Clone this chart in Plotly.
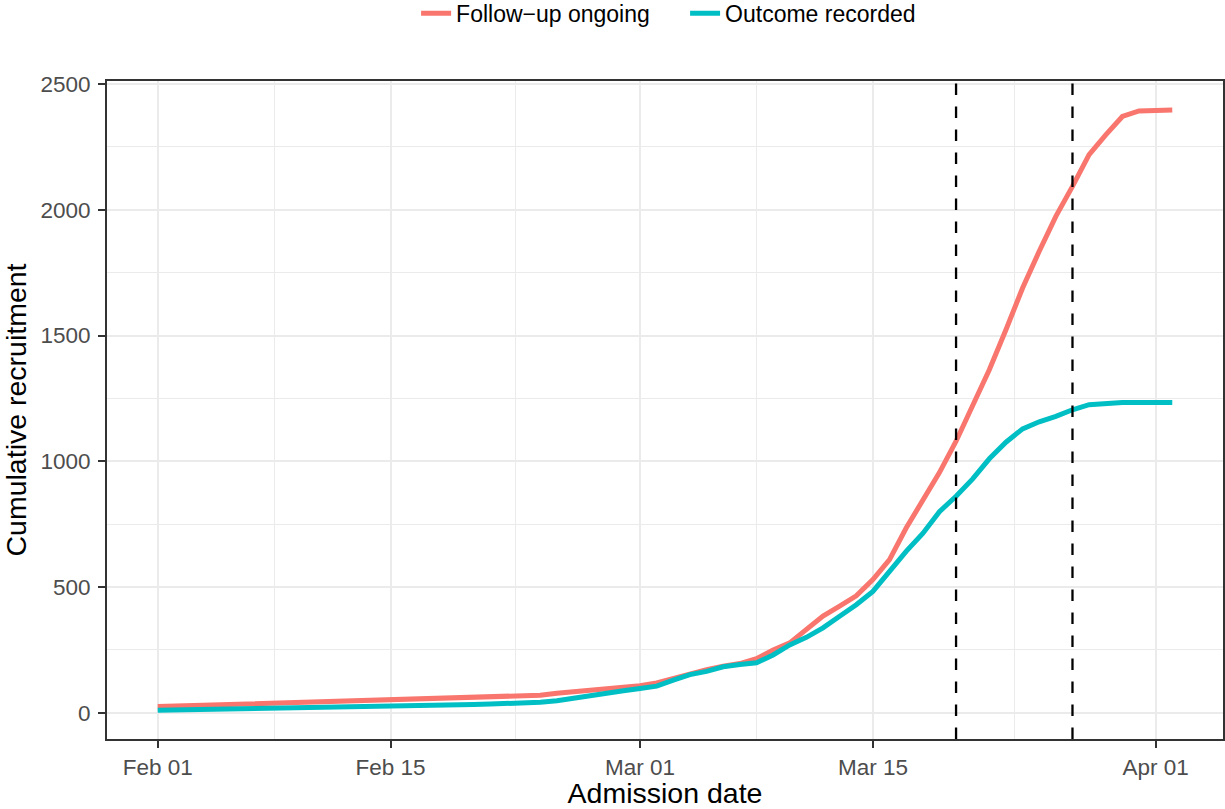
import pandas as pd
import plotly.graph_objects as go

# ---- data ----
dates = pd.date_range("2020-02-01", "2020-04-02", freq="D")

follow_up_ongoing = [25, 27, 28, 30, 31, 33, 35, 38, 40, 42,
                     44, 47, 50, 52, 55, 56, 57, 58, 59, 60,
                     62, 64, 66, 70, 78, 84, 88, 92, 98, 108,
                     119, 137, 155, 172, 185, 196, 215, 250, 278, 330,
                     385, 424, 465, 530, 609, 735, 841, 955, 1080, 1222,
                     1364, 1523, 1689, 1835, 1974, 2093, 2219, 2298, 2371, 2393,
                     2396, 2397]

outcome_recorded = [10, 11, 12, 13, 13, 14, 15, 17, 18, 19,
                    20, 21, 22, 24, 26, 27, 28, 30, 31, 33,
                    35, 36, 38, 42, 48, 58, 72, 78, 88, 97,
                    106, 130, 152, 165, 183, 192, 199, 230, 270, 300,
                    338, 384, 430, 483, 563, 642, 713, 800, 861, 930,
                    1010, 1076, 1129, 1157, 1179, 1205, 1225, 1232, 1234, 1234,
                    1234, 1234]

series_names = ["Follow\u2212up ongoing", "Outcome recorded"]
series_colors = ["#F8766D", "#00BFC4"]

vline_dates = ["2020-03-20", "2020-03-27"]

x_tick_vals = ["2020-02-01", "2020-02-15", "2020-03-01", "2020-03-15", "2020-04-01"]
x_tick_text = ["Feb 01", "Feb 15", "Mar 01", "Mar 15", "Apr 01"]
x_minor_vals = ["2020-02-08", "2020-02-22 12:00", "2020-03-08", "2020-03-23 12:00"]
y_tick_vals = [0, 500, 1000, 1500, 2000, 2500]
y_minor_vals = [250, 750, 1250, 1750, 2250]

FONT = "Liberation Sans, Arial, Helvetica, sans-serif"

fig = go.Figure()
for name, vals, col in zip(series_names, [follow_up_ongoing, outcome_recorded], series_colors):
    fig.add_trace(go.Scatter(x=dates, y=vals, mode="lines", name=name,
                             line=dict(color=col, width=5)))

for d in vline_dates:
    fig.add_shape(type="line", xref="x", yref="paper", x0=d, x1=d, y0=0, y1=1,
                  line=dict(color="black", width=2.3, dash="11.5px,11.5px"))

axis_common = dict(
    showline=True, mirror=True, linecolor="#333333", linewidth=2,
    ticks="outside", ticklen=7, tickwidth=2, tickcolor="#333333",
    tickfont=dict(family=FONT, size=22.5, color="#4D4D4D"),
    showgrid=True, gridcolor="#EBEBEB", gridwidth=2,
    zeroline=False,
)

fig.update_xaxes(
    type="date",
    range=["2020-01-28 22:48", "2020-04-05 01:12"],
    tickmode="array", tickvals=x_tick_vals, ticktext=x_tick_text,
    minor=dict(tickmode="array", tickvals=x_minor_vals, showgrid=True,
               gridcolor="#EBEBEB", gridwidth=1, ticks=""),
    title=dict(text="Admission date", font=dict(family=FONT, size=28.5, color="black"),
               standoff=8),
    **axis_common,
)
fig.update_yaxes(
    range=[-104, 2512],
    tickmode="array", tickvals=y_tick_vals, ticktext=[str(v) for v in y_tick_vals],
    minor=dict(tickmode="array", tickvals=y_minor_vals, showgrid=True,
               gridcolor="#EBEBEB", gridwidth=1, ticks=""),
    ticklabelstandoff=3,
    title=dict(text="Cumulative recruitment", font=dict(family=FONT, size=28.5, color="black"),
               standoff=7),
    **axis_common,
)

fig.update_layout(
    width=1225, height=809,
    margin=dict(l=107, r=2, t=81, b=70, autoexpand=False),
    paper_bgcolor="white", plot_bgcolor="white",
    font=dict(family=FONT),
    showlegend=True,
    legend=dict(orientation="h", x=0.518, xanchor="center", y=1.103, yanchor="middle",
                font=dict(family=FONT, size=23, color="black"),
                itemwidth=30, entrywidth=224, bgcolor="rgba(0,0,0,0)"),
)

fig.write_html("out.html", config={"displayModeBar": False},
               post_script="document.body.style.margin='0';document.body.style.overflow='hidden';")
